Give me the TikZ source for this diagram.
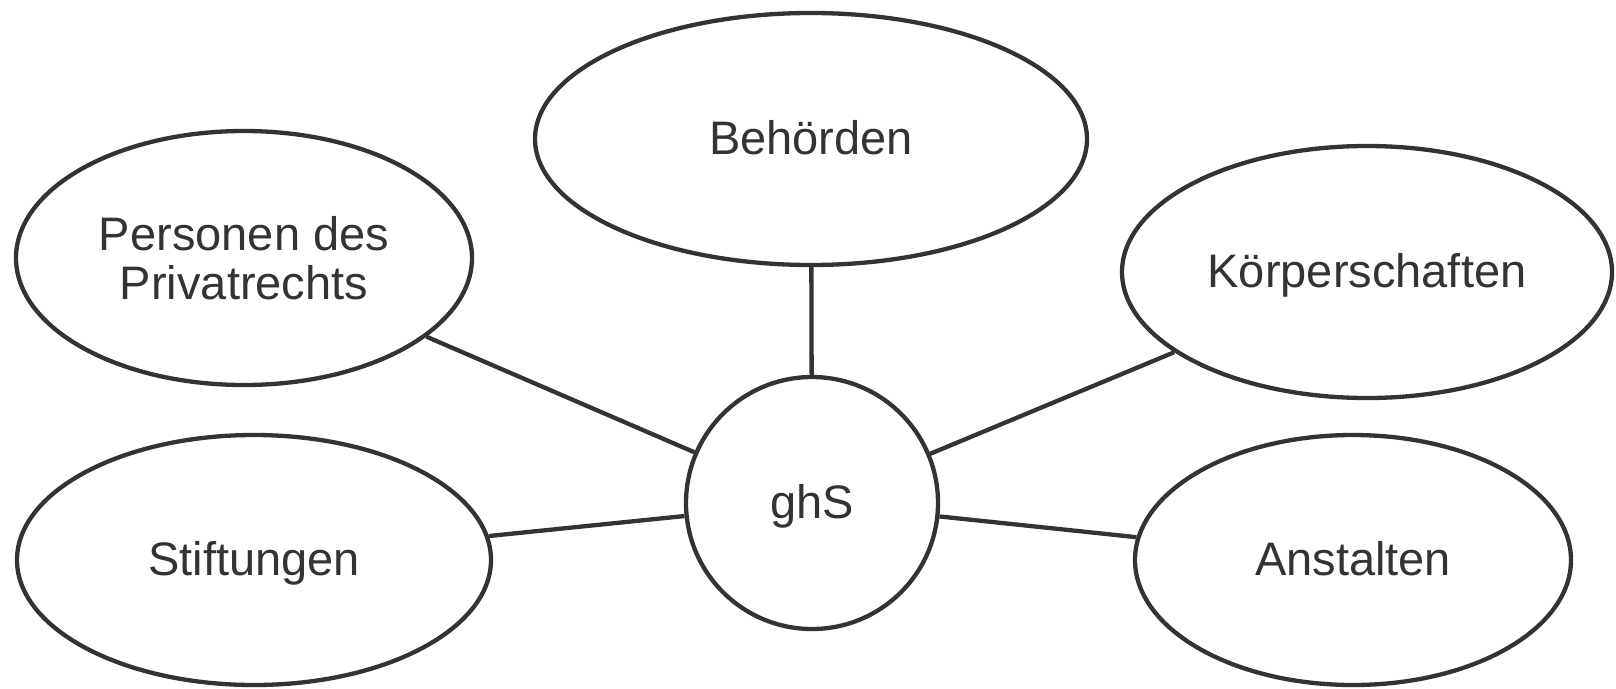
\documentclass[tikz,border=0pt]{standalone}
\usepackage{fontspec}
\setmainfont{Liberation Sans}
\usetikzlibrary{shapes.geometric}
\definecolor{ink}{HTML}{333333}
\begin{document}
\begin{tikzpicture}[x=1pt,y=-1pt,
  bub/.style={ellipse,draw=ink,line width=4.3pt,fill=white,inner sep=0pt,text=ink,font=\fontsize{47}{49}\selectfont,align=center},
  oneline/.style={text height=34pt,text depth=4pt},
  link/.style={draw=ink,line width=4.3pt}]
\useasboundingbox (0,0) rectangle (1616,688);
\node[bub,oneline,minimum width=552pt,minimum height=252pt] (beh) at (811,139) {Behörden};
\node[bub,minimum width=456pt,minimum height=254pt] (per) at (244,258) {Personen des\\Privatrechts};
\node[bub,oneline,minimum width=490pt,minimum height=252pt] (koe) at (1367,272) {Körperschaften};
\node[bub,oneline,minimum width=474pt,minimum height=250pt] (sti) at (254,560) {Stiftungen};
\node[bub,oneline,minimum width=436pt,minimum height=250pt] (ans) at (1353,560) {Anstalten};
\node[bub,oneline,circle,minimum size=252pt] (ghs) at (812,503) {ghS};
\draw[link] (ghs) -- (beh);
\draw[link] (ghs) -- (per);
\draw[link] (ghs) -- (koe);
\draw[link] (ghs) -- (sti);
\draw[link] (ghs) -- (ans);
\end{tikzpicture}
\end{document}
